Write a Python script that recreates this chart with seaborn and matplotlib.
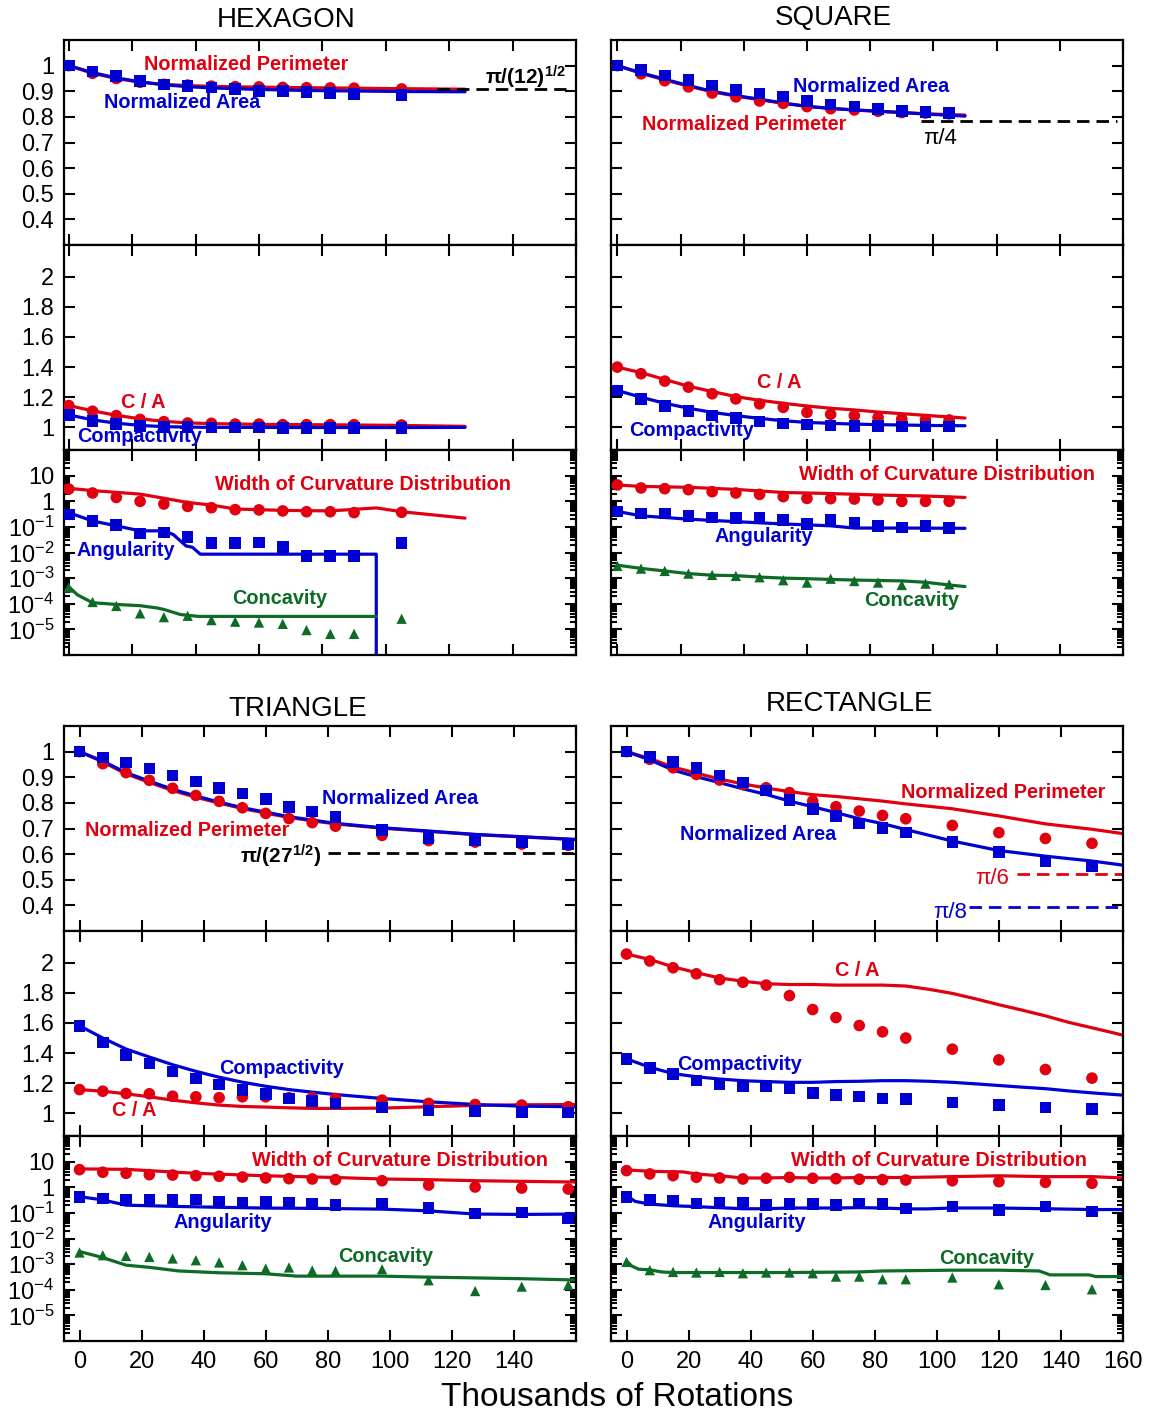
import numpy as np
import matplotlib
matplotlib.use("Agg")
import matplotlib.pyplot as plt
import seaborn as sns
from matplotlib.ticker import FixedLocator, FixedFormatter, LogLocator, NullFormatter

sns.set_style("ticks")
plt.rcParams['font.family'] = ['Liberation Sans', 'DejaVu Sans']
plt.rcParams['mathtext.fontset'] = 'custom'
plt.rcParams['mathtext.rm'] = 'Liberation Sans'
plt.rcParams['mathtext.it'] = 'Liberation Sans:italic'
plt.rcParams['mathtext.bf'] = 'Liberation Sans:bold'
plt.rcParams['text.color'] = 'black'
plt.rcParams['xtick.color'] = 'black'
plt.rcParams['ytick.color'] = 'black'
plt.rcParams['axes.edgecolor'] = 'black'

RED = '#e1000f'
BLUE = '#0000d2'
GREEN = '#0d6b25'

# ---------------- HEXAGON ----------------
hex_x = [0, 7.5, 15, 22.5, 30, 37.5, 45, 52.5, 60, 67.5, 75, 82.5, 90, 105]
hex_area = [1.0, 0.977, 0.96, 0.94, 0.926, 0.921, 0.915, 0.909, 0.901, 0.901, 0.897, 0.894, 0.89, 0.885]
hex_perim = [1.0, 0.97, 0.95, 0.935, 0.927, 0.924, 0.92, 0.918, 0.917, 0.915, 0.914, 0.913, 0.912, 0.909]
hex_ca = [1.145, 1.107, 1.078, 1.053, 1.038, 1.029, 1.027, 1.022, 1.022, 1.018, 1.018, 1.018, 1.018, 1.016]
hex_comp = [1.083, 1.043, 1.022, 1.009, 1.002, 1.002, 1.0, 1.0, 1.0, 0.998, 0.998, 0.998, 0.998, 0.996]
hex_width = [3.0, 2.1, 1.41, 0.99, 0.78, 0.63, 0.56, 0.47, 0.46, 0.42, 0.39, 0.39, 0.36, 0.37]
hex_ang = [0.30, 0.173, 0.121, 0.055, 0.060, 0.040, 0.023, 0.023, 0.0245, 0.0166, 0.0072, 0.0072, 0.0072, 0.023]
hex_conc = [4.3e-4, 1.17e-4, 8.2e-5, 4.2e-5, 3.0e-5, 3.4e-5, 2.3e-5, 2.0e-5, 1.85e-5, 1.64e-5, 9.4e-6, 6.7e-6, 6.7e-6, 2.6e-5]

hex_lx = [0, 7.5, 15, 22.5, 30, 37.5, 45, 60, 75, 90, 105, 125]
hex_area_line = [1.0, 0.973, 0.952, 0.937, 0.925, 0.918, 0.913, 0.907, 0.903, 0.901, 0.899, 0.898]
hex_perim_line = [1.0, 0.97, 0.95, 0.935, 0.927, 0.922, 0.919, 0.916, 0.914, 0.912, 0.910, 0.908]
hex_ca_line = [1.145, 1.11, 1.08, 1.057, 1.04, 1.03, 1.025, 1.02, 1.018, 1.016, 1.013, 1.007]
hex_comp_line = [1.083, 1.05, 1.028, 1.013, 1.005, 1.002, 1.0, 1.0, 0.999, 0.999, 0.999, 1.0]
hex_width_lx = [0, 7.5, 22.5, 37.5, 45, 52.5, 67.5, 82.5, 97, 105, 125]
hex_width_line = [3.2, 2.6, 1.9, 0.9, 0.71, 0.5, 0.44, 0.42, 0.55, 0.39, 0.22]
hex_ang_lx = [0, 7.5, 15, 22.5, 30, 33, 37, 39, 41.5, 97, 97]
hex_ang_line = [0.36, 0.17, 0.11, 0.07, 0.07, 0.05, 0.018, 0.016, 0.0086, 0.0086, 1e-9]
hex_conc_lx = [0, 2.8, 7.5, 15, 22.5, 27.7, 30, 35.2, 41, 97]
hex_conc_line = [4.6e-4, 2.2e-4, 1.1e-4, 9.4e-5, 8.4e-5, 6.9e-5, 6e-5, 3.8e-5, 3.2e-5, 3.2e-5]
hex_limit_x = [116, 157]
hex_limit = [np.pi / np.sqrt(12)] * 2

# ---------------- SQUARE ----------------
sq_x = [0, 7.5, 15, 22.5, 30, 37.5, 45, 52.5, 60, 67.5, 75, 82.5, 90, 97.5, 105]
sq_area = [1.0, 0.982, 0.962, 0.943, 0.923, 0.905, 0.891, 0.880, 0.863, 0.848, 0.841, 0.83, 0.822, 0.818, 0.815]
sq_perim = [1.0, 0.968, 0.941, 0.917, 0.893, 0.878, 0.862, 0.853, 0.84, 0.832, 0.827, 0.822, 0.817, 0.815, 0.812]
sq_ca = [1.40, 1.356, 1.307, 1.267, 1.223, 1.189, 1.156, 1.133, 1.1, 1.087, 1.078, 1.065, 1.056, 1.051, 1.049]
sq_comp = [1.245, 1.189, 1.14, 1.109, 1.078, 1.062, 1.04, 1.027, 1.018, 1.013, 1.011, 1.009, 1.007, 1.007, 1.007]
sq_width = [4.33, 3.3, 3.1, 2.83, 2.36, 2.1, 1.85, 1.51, 1.29, 1.26, 1.22, 1.12, 0.99, 0.99, 0.99]
sq_ang = [0.40, 0.335, 0.335, 0.27, 0.233, 0.22, 0.22, 0.185, 0.129, 0.185, 0.149, 0.108, 0.095, 0.110, 0.09]
sq_conc = [3.0e-3, 2.35e-3, 1.91e-3, 1.5e-3, 1.33e-3, 1.22e-3, 1.08e-3, 8.3e-4, 6.7e-4, 9.5e-4, 7.7e-4, 6.7e-4, 5.4e-4, 6.1e-4, 5.75e-4]

sq_lx = [0, 7.5, 15, 22.5, 30, 37.5, 45, 52.5, 60, 67.5, 75, 82.5, 90, 97.5, 110]
sq_area_line = [1.0, 0.972, 0.947, 0.922, 0.9, 0.883, 0.869, 0.854, 0.841, 0.833, 0.827, 0.822, 0.817, 0.811, 0.803]
sq_perim_line = [1.0, 0.970, 0.944, 0.920, 0.898, 0.881, 0.867, 0.853, 0.841, 0.833, 0.827, 0.822, 0.817, 0.812, 0.807]
sq_ca_line = [1.40, 1.363, 1.318, 1.273, 1.238, 1.204, 1.18, 1.16, 1.142, 1.127, 1.116, 1.102, 1.091, 1.08, 1.062]
sq_comp_line = [1.245, 1.2, 1.16, 1.127, 1.1, 1.078, 1.06, 1.044, 1.033, 1.027, 1.022, 1.018, 1.016, 1.013, 1.011]
sq_width_lx = [0, 7.5, 22.5, 37.5, 52.5, 67.5, 82.5, 97.5, 110]
sq_width_line = [4.3, 3.8, 3.5, 2.9, 2.2, 2.0, 1.75, 1.6, 1.41]
sq_ang_lx = [0, 7.5, 22.5, 37.5, 52.5, 67.5, 75, 90, 110]
sq_ang_line = [0.40, 0.27, 0.2, 0.16, 0.13, 0.11, 0.09, 0.09, 0.088]
sq_conc_lx = [0, 7.5, 15, 22.5, 30, 37.5, 45, 52.5, 60, 67.5, 75, 82.5, 90, 97.5, 105, 110]
sq_conc_line = [3.2e-3, 2.4e-3, 1.9e-3, 1.5e-3, 1.3e-3, 1.25e-3, 1.1e-3, 1.0e-3, 9.5e-4, 8.9e-4, 8.4e-4, 8.1e-4, 7.8e-4, 6.9e-4, 5.4e-4, 4.7e-4]
sq_limit_x = [96, 158]
sq_limit = [np.pi / 4] * 2

# ---------------- TRIANGLE ----------------
tri_x = [0, 7.5, 15, 22.5, 30, 37.5, 45, 52.5, 60, 67.5, 75, 82.5, 97.5, 112.5, 127.5, 142.5, 157.5]
tri_area = [1.0, 0.977, 0.957, 0.934, 0.907, 0.883, 0.859, 0.836, 0.814, 0.785, 0.766, 0.746, 0.693, 0.664, 0.655, 0.645, 0.638]
tri_perim = [1.0, 0.953, 0.918, 0.888, 0.857, 0.829, 0.806, 0.781, 0.759, 0.739, 0.723, 0.709, 0.673, 0.653, 0.647, 0.639, 0.634]
tri_ca = [1.158, 1.147, 1.132, 1.13, 1.114, 1.11, 1.104, 1.11, 1.11, 1.104, 1.104, 1.099, 1.088, 1.066, 1.059, 1.055, 1.044]
tri_comp = [1.581, 1.471, 1.389, 1.33, 1.279, 1.231, 1.191, 1.154, 1.127, 1.099, 1.081, 1.066, 1.038, 1.02, 1.015, 1.009, 1.005]
tri_width = [4.86, 3.85, 3.5, 3.1, 3.0, 2.83, 2.68, 2.5, 2.3, 2.16, 2.1, 1.98, 1.8, 1.22, 1.02, 0.93, 0.855]
tri_ang = [0.405, 0.37, 0.326, 0.317, 0.317, 0.337, 0.28, 0.257, 0.28, 0.242, 0.221, 0.202, 0.236, 0.154, 0.096, 0.105, 0.061]
tri_conc = [2.84e-3, 2.23e-3, 2.09e-3, 1.91e-3, 1.66e-3, 1.42e-3, 1.16e-3, 9.1e-4, 6.7e-4, 7.4e-4, 5.6e-4, 5.4e-4, 6.3e-4, 2.34e-4, 8.9e-5, 1.33e-4, 1.53e-4]

tri_lx = [0, 7.5, 15, 22.5, 30, 37.5, 45, 52.5, 60, 67.5, 75, 82.5, 97.5, 112.5, 127.5, 142.5, 160]
tri_area_line = [1.0, 0.963, 0.918, 0.885, 0.853, 0.827, 0.803, 0.781, 0.764, 0.746, 0.733, 0.72, 0.703, 0.69, 0.677, 0.668, 0.657]
tri_perim_line = [1.0, 0.96, 0.913, 0.88, 0.848, 0.822, 0.799, 0.778, 0.76, 0.743, 0.73, 0.718, 0.701, 0.689, 0.676, 0.667, 0.657]
tri_comp_line = [1.581, 1.5, 1.427, 1.374, 1.323, 1.279, 1.24, 1.207, 1.18, 1.158, 1.141, 1.125, 1.099, 1.077, 1.059, 1.048, 1.044]
tri_ca_line = [1.158, 1.147, 1.13, 1.11, 1.088, 1.07, 1.055, 1.046, 1.042, 1.037, 1.033, 1.033, 1.035, 1.044, 1.053, 1.057, 1.059]
tri_width_lx = [0, 15, 37.5, 60, 82.5, 97.5, 112.5, 127.5, 142.5, 160]
tri_width_line = [5.2, 5.0, 3.5, 2.8, 2.4, 2.1, 1.98, 1.8, 1.7, 1.6]
tri_ang_lx = [0, 7.5, 15, 30, 45, 60, 75, 97.5, 112.5, 123, 127.5, 142.5, 160]
tri_ang_line = [0.43, 0.32, 0.2, 0.18, 0.165, 0.154, 0.15, 0.14, 0.12, 0.098, 0.09, 0.087, 0.09]
tri_conc_lx = [0, 7.5, 15, 22.5, 32, 45, 60, 70, 82.5, 97.5, 112.5, 127.5, 142.5, 160]
tri_conc_line = [3.1e-3, 1.8e-3, 9.1e-4, 7.5e-4, 5.4e-4, 4.6e-4, 4.2e-4, 3.4e-4, 3.4e-4, 3.4e-4, 3.1e-4, 2.9e-4, 2.7e-4, 2.4e-4]
tri_limit_x = [80, 159]
tri_limit = [np.pi / np.sqrt(27)] * 2

# ---------------- RECTANGLE ----------------
rect_x = [0, 7.5, 15, 22.5, 30, 37.5, 45, 52.5, 60, 67.5, 75, 82.5, 90, 105, 120, 135, 150]
rect_area = [1.0, 0.980, 0.959, 0.935, 0.907, 0.879, 0.849, 0.811, 0.777, 0.749, 0.72, 0.703, 0.684, 0.647, 0.608, 0.573, 0.553]
rect_perim = [1.0, 0.970, 0.937, 0.911, 0.889, 0.872, 0.859, 0.84, 0.807, 0.785, 0.768, 0.751, 0.738, 0.712, 0.684, 0.661, 0.642]
rect_ca = [2.057, 2.011, 1.966, 1.926, 1.887, 1.870, 1.851, 1.781, 1.689, 1.636, 1.583, 1.541, 1.5, 1.426, 1.355, 1.291, 1.234]
rect_comp = [1.362, 1.302, 1.26, 1.217, 1.191, 1.181, 1.181, 1.168, 1.136, 1.121, 1.111, 1.1, 1.094, 1.072, 1.055, 1.04, 1.03]
rect_width = [4.45, 3.3, 2.83, 2.45, 2.3, 2.1, 2.24, 2.45, 2.24, 2.16, 2.05, 1.98, 1.92, 1.8, 1.65, 1.56, 1.43]
rect_ang = [0.405, 0.317, 0.298, 0.236, 0.258, 0.258, 0.202, 0.221, 0.221, 0.202, 0.236, 0.221, 0.15, 0.18, 0.132, 0.18, 0.114]
rect_conc = [1.22e-3, 5.8e-4, 4.95e-4, 4.7e-4, 4.95e-4, 4.4e-4, 4.7e-4, 4.7e-4, 4.4e-4, 3.27e-4, 3.27e-4, 2.57e-4, 2.57e-4, 3.0e-4, 1.63e-4, 1.53e-4, 1.04e-4]

rect_lx = [0, 7.5, 15, 22.5, 30, 37.5, 45, 52.5, 60, 67.5, 75, 82.5, 90, 105, 120, 135, 150, 160]
rect_perim_line = [1.0, 0.973, 0.94, 0.916, 0.893, 0.874, 0.858, 0.844, 0.832, 0.825, 0.816, 0.807, 0.796, 0.777, 0.749, 0.718, 0.697, 0.68]
rect_area_line = [1.0, 0.968, 0.928, 0.902, 0.879, 0.855, 0.833, 0.807, 0.785, 0.762, 0.738, 0.719, 0.696, 0.651, 0.614, 0.592, 0.573, 0.557]
rect_mid_lx = [0, 7.5, 15, 22.5, 30, 37.5, 45, 52.5, 60, 67.5, 75, 82.5, 90, 97.5, 105, 112.5, 120, 127.5, 135, 142.5, 150, 160]
rect_ca_line = [2.057, 2.021, 1.972, 1.934, 1.898, 1.877, 1.86, 1.855, 1.855, 1.851, 1.851, 1.851, 1.845, 1.823, 1.796, 1.76, 1.721, 1.685, 1.647, 1.604, 1.568, 1.519]
rect_comp_line = [1.362, 1.306, 1.264, 1.243, 1.228, 1.217, 1.211, 1.206, 1.206, 1.211, 1.213, 1.217, 1.217, 1.213, 1.206, 1.196, 1.185, 1.174, 1.164, 1.149, 1.136, 1.121]
rect_width_lx = [0, 7.5, 15, 18, 22.5, 30, 37.5, 45, 52.5, 60, 67.5, 75, 82.5, 90, 105, 120, 135, 150, 160]
rect_width_line = [4.75, 4.2, 4.0, 4.0, 3.3, 2.8, 2.3, 2.3, 2.4, 2.3, 2.3, 2.4, 2.4, 2.4, 2.6, 2.8, 2.6, 2.6, 2.3]
rect_ang_lx = [0, 2.8, 7.5, 15, 22.5, 37.5, 45, 52.5, 67.5, 75, 82.5, 90, 97, 105, 120, 135, 150, 160]
rect_ang_line = [0.47, 0.28, 0.22, 0.19, 0.175, 0.145, 0.145, 0.155, 0.155, 0.16, 0.155, 0.143, 0.143, 0.155, 0.155, 0.145, 0.135, 0.135]
rect_conc_lx = [0, 1.7, 4, 7.5, 11.3, 15, 30, 52.5, 75, 82.5, 105, 120, 133, 136.5, 149, 151.3, 160]
rect_conc_line = [1.33e-3, 8.4e-4, 6.3e-4, 6.0e-4, 4.95e-4, 4.7e-4, 4.7e-4, 4.7e-4, 4.95e-4, 5.4e-4, 5.8e-4, 5.8e-4, 5.4e-4, 3.8e-4, 3.8e-4, 3.27e-4, 3.27e-4]
rect_limit6_x = [126, 160]
rect_limit6 = [np.pi / 6] * 2
rect_limit8_x = [110.5, 160]
rect_limit8 = [np.pi / 8] * 2

# ---------------- figure layout ----------------
W, H = 1151, 1416
fig = plt.figure(figsize=(W / 100, H / 100), dpi=100)


def px_axes(left, top, width, height):
    return fig.add_axes([left / W, 1 - (top + height) / H, width / W, height / H])


def px_text(x, y, s, color, size=14.3, weight='bold'):
    fig.text(x / W, 1 - y / H, s, color=color, fontsize=size, fontweight=weight,
             ha='center', va='center')


def line(ax, x, y, color, ls='-', lw=2.3):
    sns.lineplot(x=x, y=y, ax=ax, color=color, lw=lw, linestyle=ls,
                 sort=False, estimator=None)


def dots(ax, x, y, color, marker, s=70):
    sns.scatterplot(x=x, y=y, ax=ax, color=color, marker=marker, s=s,
                    edgecolor='none', linewidth=0, zorder=3)


DASH = (0, (4.5, 2.5))

col_left = {'left': 64, 'right': 611}
row_tops = {'top': [40, 245, 450], 'bottom': [726, 931, 1136]}
PW, PH = 512, 205

axes = {}
for rk, tops in row_tops.items():
    for ck, lx in col_left.items():
        axes[(rk, ck)] = [px_axes(lx, t, PW, PH) for t in tops]

log_ticks = [1e-6, 1e-5, 1e-4, 1e-3, 1e-2, 1e-1, 1, 10, 100]
log_labels = ['', '$10^{-5}$', '$10^{-4}$', '$10^{-3}$', '$10^{-2}$', '$10^{-1}$', '1', '10', '']

for (rk, ck), trio in axes.items():
    a_top, a_mid, a_log = trio
    for ax in trio:
        if rk == 'top':
            ax.set_xlim(-1.5 if ck == 'left' else -2, 160)
        else:
            ax.set_xlim(-5, 160)
        ax.set_xticks(range(0, 161, 20))
        ax.tick_params(which='both', direction='in', top=True, right=True,
                       width=1.5, labelsize=17, pad=7, color='black',
                       labelcolor='black')
        ax.tick_params(which='major', length=8)
        ax.tick_params(which='minor', length=4)
        for sp in ax.spines.values():
            sp.set_linewidth(1.6)
            sp.set_color('black')
    a_top.set_ylim(0.3, 1.1)
    a_top.set_yticks([0.4, 0.5, 0.6, 0.7, 0.8, 0.9, 1.0])
    a_top.set_yticklabels(['0.4', '0.5', '0.6', '0.7', '0.8', '0.9', '1'])
    a_mid.set_ylim(0.85, 2.21)
    a_mid.set_yticks([1.0, 1.2, 1.4, 1.6, 1.8, 2.0])
    a_mid.set_yticklabels(['1', '1.2', '1.4', '1.6', '1.8', '2'])
    a_log.set_yscale('log')
    a_log.set_ylim(1e-6, 1e2)
    a_log.yaxis.set_major_locator(FixedLocator(log_ticks))
    a_log.yaxis.set_major_formatter(FixedFormatter(log_labels))
    a_log.yaxis.set_minor_locator(LogLocator(base=10, subs=np.arange(2, 10), numticks=20))
    a_log.yaxis.set_minor_formatter(NullFormatter())
    if ck == 'right':
        for ax in trio:
            ax.set_yticklabels([])
    for ax in trio:
        if not (rk == 'bottom' and ax is a_log):
            ax.set_xticklabels([])
    if rk == 'bottom':
        labs = [str(v) for v in range(0, 161, 20)]
        if ck == 'left':
            labs[-1] = ''
        a_log.set_xticklabels(labs)

# ---- HEXAGON ----
a1, a2, a3 = axes[('top', 'left')]
line(a1, hex_lx, hex_perim_line, RED)
line(a1, hex_lx, hex_area_line, BLUE)
dots(a1, hex_x, hex_perim, RED, 'o')
dots(a1, hex_x, hex_area, BLUE, 's')
line(a1, hex_limit_x, hex_limit, 'black', DASH, 2.0)
line(a2, hex_lx, hex_ca_line, RED)
line(a2, hex_lx, hex_comp_line, BLUE)
dots(a2, hex_x, hex_ca, RED, 'o')
dots(a2, hex_x, hex_comp, BLUE, 's')
line(a3, hex_width_lx, hex_width_line, RED)
line(a3, hex_ang_lx, hex_ang_line, BLUE)
line(a3, hex_conc_lx, hex_conc_line, GREEN)
dots(a3, hex_x, hex_width, RED, 'o')
dots(a3, hex_x, hex_ang, BLUE, 's')
dots(a3, hex_x, hex_conc, GREEN, '^', 55)
a3.set_ylim(1e-6, 1e2)

# ---- SQUARE ----
a1, a2, a3 = axes[('top', 'right')]
line(a1, sq_lx, sq_perim_line, RED)
line(a1, sq_lx, sq_area_line, BLUE)
dots(a1, sq_x, sq_perim, RED, 'o')
dots(a1, sq_x, sq_area, BLUE, 's')
line(a1, sq_limit_x, sq_limit, 'black', DASH, 2.0)
line(a2, sq_lx, sq_ca_line, RED)
line(a2, sq_lx, sq_comp_line, BLUE)
dots(a2, sq_x, sq_ca, RED, 'o')
dots(a2, sq_x, sq_comp, BLUE, 's')
line(a3, sq_width_lx, sq_width_line, RED)
line(a3, sq_ang_lx, sq_ang_line, BLUE)
line(a3, sq_conc_lx, sq_conc_line, GREEN)
dots(a3, sq_x, sq_width, RED, 'o')
dots(a3, sq_x, sq_ang, BLUE, 's')
dots(a3, sq_x, sq_conc, GREEN, '^', 55)

# ---- TRIANGLE ----
a1, a2, a3 = axes[('bottom', 'left')]
line(a1, tri_lx, tri_perim_line, RED)
line(a1, tri_lx, tri_area_line, BLUE)
dots(a1, tri_x, tri_perim, RED, 'o')
dots(a1, tri_x, tri_area, BLUE, 's')
line(a1, tri_limit_x, tri_limit, 'black', DASH, 2.0)
line(a2, tri_lx, tri_ca_line, RED)
line(a2, tri_lx, tri_comp_line, BLUE)
dots(a2, tri_x, tri_ca, RED, 'o')
dots(a2, tri_x, tri_comp, BLUE, 's')
line(a3, tri_width_lx, tri_width_line, RED)
line(a3, tri_ang_lx, tri_ang_line, BLUE)
line(a3, tri_conc_lx, tri_conc_line, GREEN)
dots(a3, tri_x, tri_width, RED, 'o')
dots(a3, tri_x, tri_ang, BLUE, 's')
dots(a3, tri_x, tri_conc, GREEN, '^', 55)

# ---- RECTANGLE ----
a1, a2, a3 = axes[('bottom', 'right')]
line(a1, rect_lx, rect_perim_line, RED)
line(a1, rect_lx, rect_area_line, BLUE)
dots(a1, rect_x, rect_perim, RED, 'o')
dots(a1, rect_x, rect_area, BLUE, 's')
line(a1, rect_limit6_x, rect_limit6, RED, DASH, 2.0)
line(a1, rect_limit8_x, rect_limit8, BLUE, DASH, 2.0)
line(a2, rect_mid_lx, rect_ca_line, RED)
line(a2, rect_mid_lx, rect_comp_line, BLUE)
dots(a2, rect_x, rect_ca, RED, 'o')
dots(a2, rect_x, rect_comp, BLUE, 's')
line(a3, rect_width_lx, rect_width_line, RED)
line(a3, rect_ang_lx, rect_ang_line, BLUE)
line(a3, rect_conc_lx, rect_conc_line, GREEN)
dots(a3, rect_x, rect_width, RED, 'o')
dots(a3, rect_x, rect_ang, BLUE, 's')
dots(a3, rect_x, rect_conc, GREEN, '^', 55)

for trio in axes.values():
    for ax in trio:
        ax.set_xlabel('')
        ax.set_ylabel('')
        leg = ax.get_legend()
        if leg is not None:
            leg.remove()

# ---------------- texts ----------------
px_text(286, 20, 'HEXAGON', 'black', 20, 'normal')
px_text(833, 18, 'SQUARE', 'black', 20, 'normal')
px_text(298, 709, 'TRIANGLE', 'black', 20, 'normal')
px_text(849, 704, 'RECTANGLE', 'black', 20, 'normal')
px_text(617, 1397, 'Thousands of Rotations', 'black', 24, 'normal')

px_text(246, 65, 'Normalized Perimeter', RED)
px_text(182, 103, 'Normalized Area', BLUE)
px_text(525, 77, r'π/(12)$^{\mathbf{1/2}}$', 'black', 15)
px_text(143, 402, 'C / A', RED)
px_text(139, 437, 'Compactivity', BLUE)
px_text(363, 484, 'Width of Curvature Distribution', RED)
px_text(126, 551, 'Angularity', BLUE)
px_text(280, 599, 'Concavity', GREEN)

px_text(871, 86, 'Normalized Area', BLUE)
px_text(744, 124, 'Normalized Perimeter', RED)
px_text(940, 138, 'π/4', 'black', 16, 'normal')
px_text(779, 382, 'C / A', RED)
px_text(691, 431, 'Compactivity', BLUE)
px_text(947, 474, 'Width of Curvature Distribution', RED)
px_text(764, 537, 'Angularity', BLUE)
px_text(912, 601, 'Concavity', GREEN)

px_text(400, 798, 'Normalized Area', BLUE)
px_text(187, 831, 'Normalized Perimeter', RED)
px_text(281, 856, r'π/(27$^{\mathbf{1/2}}$)', 'black', 15)
px_text(282, 1068, 'Compactivity', BLUE)
px_text(134, 1111, 'C / A', RED)
px_text(400, 1161, 'Width of Curvature Distribution', RED)
px_text(223, 1223, 'Angularity', BLUE)
px_text(386, 1256, 'Concavity', GREEN)

px_text(1003, 793, 'Normalized Perimeter', RED)
px_text(758, 834, 'Normalized Area', BLUE)
px_text(992, 878, 'π/6', RED, 16, 'normal')
px_text(950, 912, 'π/8', BLUE, 16, 'normal')
px_text(857, 971, 'C / A', RED)
px_text(739, 1064, 'Compactivity', BLUE)
px_text(939, 1161, 'Width of Curvature Distribution', RED)
px_text(757, 1223, 'Angularity', BLUE)
px_text(987, 1258, 'Concavity', GREEN)

fig.savefig('out.png', dpi=100)
